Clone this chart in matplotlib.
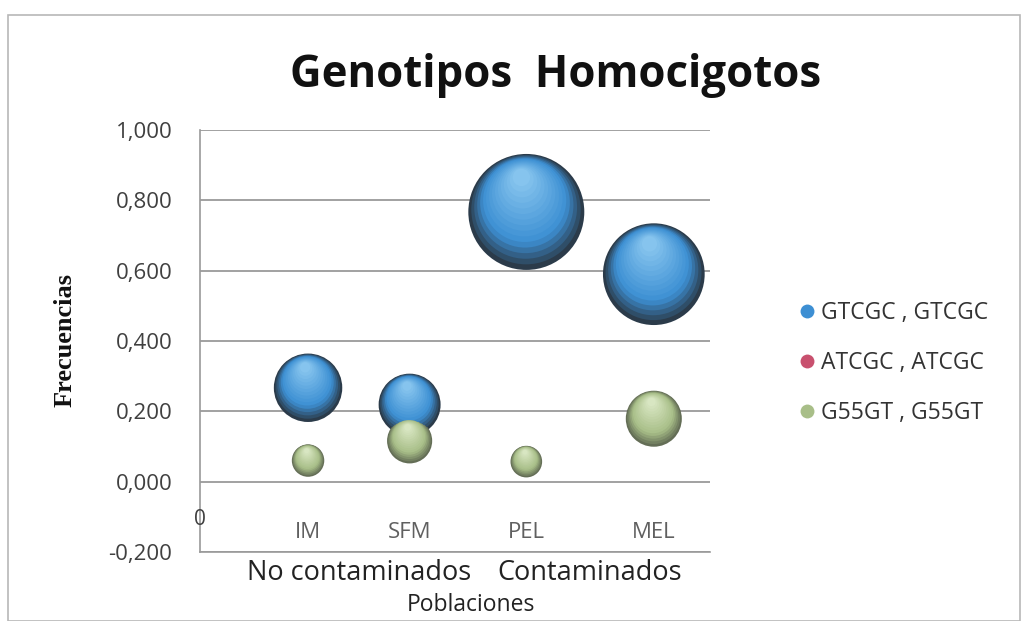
import numpy as np
import matplotlib.pyplot as plt
import matplotlib.transforms as mtransforms
from matplotlib.colors import to_rgb
from matplotlib.lines import Line2D
from matplotlib.patches import Rectangle

plt.rcParams['font.family'] = ['Open Sans', 'DejaVu Sans']

poblaciones = ['IM', 'SFM', 'PEL', 'MEL']
x_pos = [1.0, 1.94, 3.02, 4.2]
grupos = ['No contaminados', 'Contaminados']
series = ['GTCGC , GTCGC', 'ATCGC , ATCGC', 'G55GT , G55GT']
gtcgc = [0.267, 0.219, 0.767, 0.590]
atcgc = [0.0, 0.0, 0.0, 0.0]
g55gt = [0.060, 0.116, 0.057, 0.179]
yticks = [-0.2, 0.0, 0.2, 0.4, 0.6, 0.8, 1.0]

fig = plt.figure(figsize=(10.27, 6.21), dpi=100)
fig.patches.append(Rectangle((8 / 1027, 0), 1012 / 1027, 606 / 621, transform=fig.transFigure,
                             fill=False, edgecolor='#b8b8b8', linewidth=1.2))
ax = fig.add_axes([200 / 1027, 69 / 621, 510 / 1027, 422 / 621])

SCALE = 9090  # bubble area (pt^2) per unit of frequency


def blend(c1, c2, t):
    a, b = np.array(to_rgb(c1)), np.array(to_rgb(c2))
    return tuple(a + (b - a) * t)


def spheres(xs, ys, dark, body, light):
    # fake 3d bubbles: stack of circles getting lighter towards the top
    n = 16
    for x, y in zip(xs, ys):
        s = y * SCALE
        if s <= 0:
            continue
        r = np.sqrt(s) / 2
        for k in range(n):
            f = 1 - 0.85 * k / (n - 1)
            t = k / (n - 1)
            if t < 0.3:
                c = blend(dark, body, t / 0.3)
            else:
                c = blend(body, light, (t - 0.3) / 0.7)
            off = mtransforms.ScaledTranslation(-0.1 * r * (1 - f) / 72, 0.7 * r * (1 - f) / 72,
                                                fig.dpi_scale_trans)
            ax.scatter([x], [y], s=s * f * f, color=c, edgecolors='none', zorder=3 + k * 0.01,
                       transform=ax.transData + off)


spheres(x_pos, gtcgc, '#2b3b4a', '#3d8fd3', '#86c4ee')
spheres(x_pos, atcgc, '#5a2030', '#c8506e', '#e890a8')
spheres(x_pos, g55gt, '#646e56', '#a8be88', '#d8e6c2')

ax.set_xlim(0, 4.72)
ax.set_ylim(-0.2, 1.0)
ax.set_yticks(yticks)
ax.set_yticklabels([('%.3f' % v).replace('.', ',') for v in yticks], fontsize=16, color='#404040')
ax.set_xticks([])
ax.tick_params(axis='y', length=0, pad=20)
ax.yaxis.grid(True, color='#9a9a9a', linewidth=1.3)
ax.set_axisbelow(True)
for side in ['top', 'right']:
    ax.spines[side].set_visible(False)
for side in ['left', 'bottom']:
    ax.spines[side].set_color('#9a9a9a')
    ax.spines[side].set_linewidth(1.2)

ax.text(0, -0.108, '0', ha='center', va='center', fontsize=15, color='#404040')
for x, name in zip(x_pos, poblaciones):
    ax.text(x, -0.145, name, ha='center', va='center', fontsize=16, color='#606060')
tr = mtransforms.blended_transform_factory(ax.transData, ax.transAxes)
ax.text((x_pos[0] + x_pos[1]) / 2, -0.05, grupos[0], ha='center', va='center', fontsize=19.5,
        color='#222222', transform=tr)
ax.text((x_pos[2] + x_pos[3]) / 2, -0.05, grupos[1], ha='center', va='center', fontsize=19.5,
        color='#222222', transform=tr)
fig.text(471 / 1027, 1 - 605 / 621, 'Poblaciones', ha='center', va='center', fontsize=16.5,
         color='#222222')
fig.text(65 / 1027, 1 - 340 / 621, 'Frecuencias', ha='center', va='center', rotation=90,
         fontsize=19, fontweight='bold', family=['Liberation Serif'], color='#111111')
fig.text(556 / 1027, 1 - 75 / 621, 'Genotipos  Homocigotos', ha='center', va='center',
         fontsize=31.5, fontweight='bold', color='#111111')

handles = [Line2D([], [], linestyle='none', marker='o', markersize=10, markerfacecolor=c,
                  markeredgecolor='none') for c in ['#3d8fd3', '#c8506e', '#a8be88']]
fig.legend(handles, series, loc='center left', bbox_to_anchor=(775 / 1027, 1 - 363 / 621),
           frameon=False, fontsize=16.5, labelspacing=1.15, handletextpad=0.1,
           handlelength=1.0, labelcolor='#333333')

fig.savefig('out.png', dpi=100)
